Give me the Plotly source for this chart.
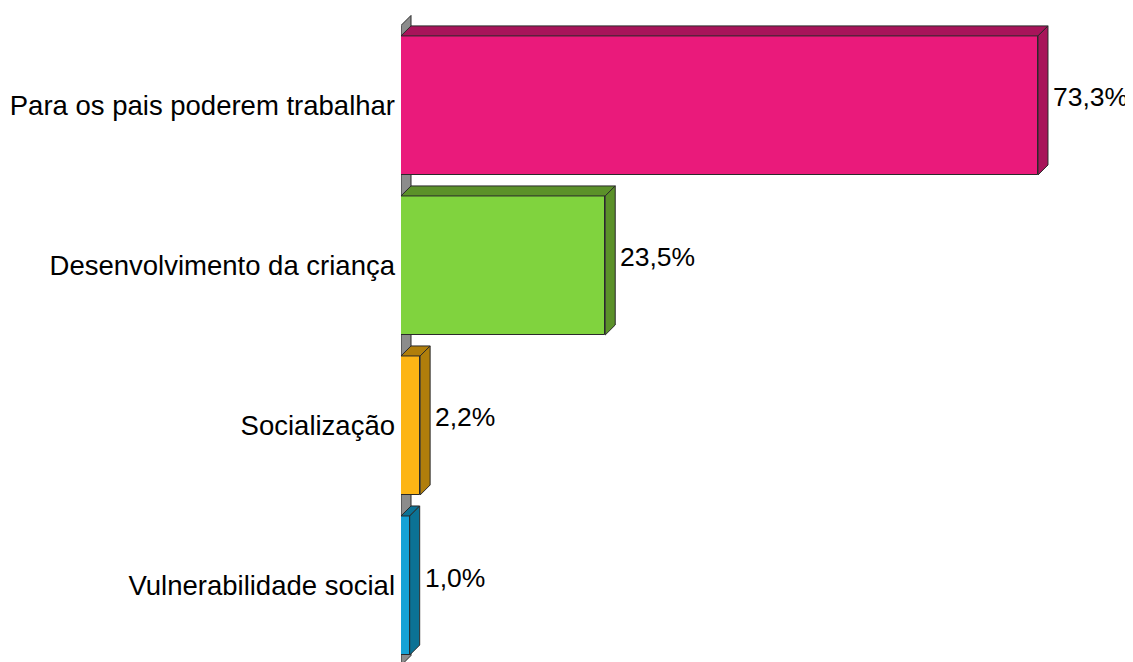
import plotly.graph_objects as go

categories = ["Para os pais poderem trabalhar", "Desenvolvimento da criança", "Socialização", "Vulnerabilidade social"]
values = [73.3, 23.5, 2.2, 1.0]
value_labels = ["73,3%", "23,5%", "2,2%", "1,0%"]
front_colors = ["#EA1A7B", "#80D33E", "#FDB515", "#15A2D6"]
dark_colors = ["#A8145A", "#5B9129", "#B07E0B", "#0B7295"]

FONT = "Arial, Liberation Sans, sans-serif"
W, H = 1125, 654
ML = 393
PX_PER_UNIT = 8.69
X_MAX = (W - ML) / PX_PER_UNIT
Y_RANGE = [3.478, -0.609]
BAR_W = 0.869
DX = 10 / PX_PER_UNIT                       # depth in x data units (10px)
DY = 10 / (H / (Y_RANGE[0] - Y_RANGE[1]))   # depth in y data units (10px)
EDGE = "#2a2a2a"

ypos = list(range(len(categories)))

fig = go.Figure()

# front faces
fig.add_trace(go.Bar(
    x=values, y=ypos, orientation="h", width=BAR_W, base=0,
    marker=dict(color=front_colors, line=dict(color=EDGE, width=1)),
    hoverinfo="skip", showlegend=False,
))

# top and side faces (3D effect)
for i, v in enumerate(values):
    yt = ypos[i] - BAR_W / 2
    yb = ypos[i] + BAR_W / 2
    fig.add_trace(go.Scatter(
        x=[0, v, v + DX, DX, 0], y=[yt, yt, yt - DY, yt - DY, yt],
        fill="toself", fillcolor=dark_colors[i], mode="lines",
        line=dict(color=EDGE, width=1), hoverinfo="skip", showlegend=False,
    ))
    fig.add_trace(go.Scatter(
        x=[v, v + DX, v + DX, v, v], y=[yt, yt - DY, yb - DY, yb, yt],
        fill="toself", fillcolor=dark_colors[i], mode="lines",
        line=dict(color=EDGE, width=1), hoverinfo="skip", showlegend=False,
    ))
    fig.add_annotation(
        x=v + DX, y=ypos[i] - DY / 2, text=value_labels[i], showarrow=False,
        xanchor="left", yanchor="middle", xshift=3, yshift=3,
        font=dict(family=FONT, size=26.5, color="#000000"),
    )

# wall (floor of category axis)
y0 = ypos[0] - 0.5
y1 = ypos[-1] + 0.5
fig.add_shape(
    type="path", xref="x", yref="y", layer="below",
    path=f"M 0,{y0} L {DX},{y0 - DY} L {DX},{y1 - DY} L 0,{y1} Z",
    fillcolor="#8C8C8C", line=dict(color=EDGE, width=1),
)

fig.update_layout(
    width=W, height=H,
    margin=dict(l=ML, r=0, t=0, b=0),
    paper_bgcolor="white", plot_bgcolor="white",
    bargap=0,
    font=dict(family=FONT, size=27.5, color="#000000"),
)
fig.update_xaxes(range=[0, X_MAX], visible=False, showgrid=False, zeroline=False)
fig.update_yaxes(
    range=Y_RANGE, tickvals=ypos, ticktext=categories, showgrid=False, zeroline=False,
    showline=False, ticks="", ticklabelstandoff=5, automargin=False,
    tickfont=dict(family=FONT, size=27.5, color="#000000"),
)

fig.write_html("out.html")
